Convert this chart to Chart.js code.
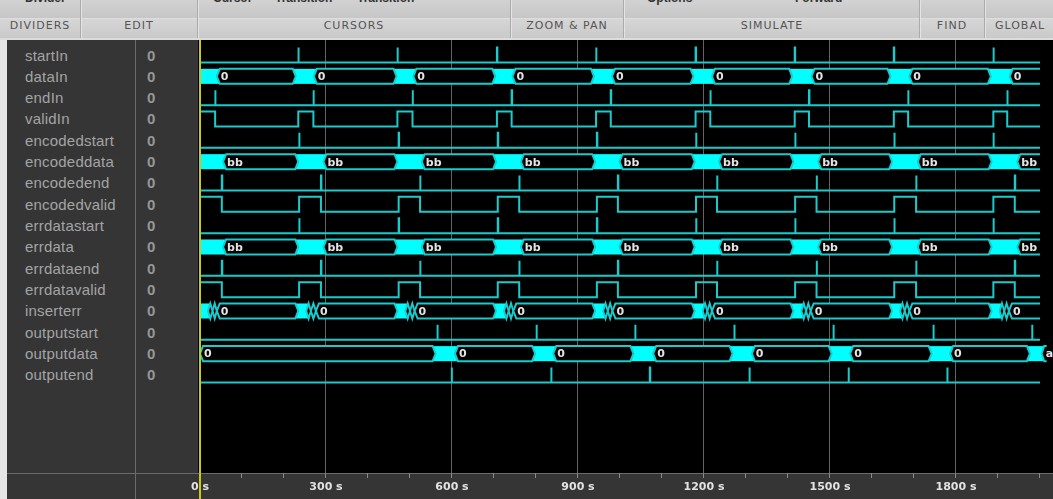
<!DOCTYPE html>
<html>
<head>
<meta charset="utf-8">
<script src="https://cdn.jsdelivr.net/npm/chart.js@4.4.1/dist/chart.umd.min.js"></script>
<style>
  body { margin: 0; width: 1053px; height: 499px; overflow: hidden; position: relative; background: #e6e6e6; font-family: "Liberation Sans", Arial, sans-serif; }
  .bar1 { position: absolute; left: 0; top: 0; width: 1053px; height: 18px; background: linear-gradient(#d2d2d2, #c6c6c6); overflow: hidden; }
  .bar2 { position: absolute; left: 0; top: 18px; width: 1053px; height: 20px; background: linear-gradient(#d6d6d6, #c9c9c9); border-top: 1px solid #dedede; box-sizing: border-box; }
  .barline { position: absolute; left: 0; top: 38px; width: 1053px; height: 2px; background: #dcdcdc; }
  .cut { position: absolute; top: -8px; font: bold 12px "Liberation Sans", Arial, sans-serif; color: #333; line-height: 12px; white-space: nowrap; }
  .btn { position: absolute; top: 0; height: 20px; line-height: 19px; text-align: center; font: 11px "DejaVu Sans", sans-serif; letter-spacing: 1px; color: #555; }
  .sep { position: absolute; top: 0; width: 1px; height: 38px; background: #ababab; border-right: 1px solid #e4e4e4; }
  .panel { position: absolute; left: 7px; top: 40px; width: 191px; height: 459px; background: #353535; }
  .vdiv { position: absolute; left: 128px; top: 0; width: 1px; height: 459px; background: #6a6a6a; }
  .hdiv { position: absolute; left: 0; top: 433px; width: 191px; height: 1px; background: #6a6a6a; }
  .name { position: absolute; left: 18px; font-size: 15px; line-height: 18px; color: #a4a4a4; white-space: nowrap; letter-spacing: 0.2px; }
  .val { position: absolute; left: 140px; font-size: 15px; font-weight: bold; line-height: 18px; color: #979797; }
  #wrap { position: absolute; left: 180px; top: 40px; width: 873px; height: 459px; }
</style>
</head>
<body>
<div class="bar1">
  <div class="cut" style="left:25px">Divider</div>
  <div class="cut" style="left:213px">Cursor</div>
  <div class="cut" style="left:275px">Transition</div>
  <div class="cut" style="left:357px">Transition</div>
  <div class="cut" style="left:647px">Options</div>
  <div class="cut" style="left:795px">Forward</div>
</div>
<div class="bar2">
  <div class="btn" style="left:0;width:80px">DIVIDERS</div>
  <div class="btn" style="left:80px;width:118px">EDIT</div>
  <div class="btn" style="left:198px;width:312px">CURSORS</div>
  <div class="btn" style="left:510px;width:114px">ZOOM &amp; PAN</div>
  <div class="btn" style="left:624px;width:296px">SIMULATE</div>
  <div class="btn" style="left:920px;width:64px">FIND</div>
  <div class="btn" style="left:984px;width:72px">GLOBAL</div>
</div>
<div class="sep" style="left:80px"></div>
<div class="sep" style="left:197px"></div>
<div class="sep" style="left:510px"></div>
<div class="sep" style="left:623px"></div>
<div class="sep" style="left:919px"></div>
<div class="sep" style="left:984px"></div>
<div class="barline"></div>
<div class="panel" id="panel">
  <div class="vdiv"></div>
  <div class="hdiv"></div>
</div>
<div id="wrap"><canvas id="waveChart" width="873" height="459"></canvas></div>

<script>
// time axis (seconds)
const timeMax = 2031;
const traceEnd = 2000;
const outputDataEnd = 2016;
const tickStep = 100;
const labelStep = 300;

const signalNames = ["startIn", "dataIn", "endIn", "validIn", "encodedstart", "encodeddata",
  "encodedend", "encodedvalid", "errdatastart", "errdata", "errdataend", "errdatavalid",
  "inserterr", "outputstart", "outputdata", "outputend"];
const signalValues = ["0", "0", "0", "0", "0", "0", "0", "0", "0", "0", "0", "0", "0", "0", "0", "0"];

// pulse times, high spans and bus changes ('*' = dense changes)
const startIn = [234, 470, 707, 943, 1180, 1416, 1652, 1889];
const dataIn = [[0, "*"], [40, "0"], [228, "*"], [271, "0"], [468, "*"], [508, "0"], [703, "*"], [744, "0"],
  [938, "*"], [981, "0"], [1175, "*"], [1219, "0"], [1410, "*"], [1456, "0"], [1644, "*"], [1689, "0"],
  [1883, "*"], [1928, "0"]];
const endIn = [36, 270, 506, 742, 978, 1215, 1450, 1686, 1922];
const validIn = [[0, 36], [234, 270], [470, 506], [707, 742], [943, 978], [1180, 1215], [1416, 1450],
  [1652, 1686], [1889, 1922]];

const encodedStart = [236, 473, 709, 945, 1181, 1417, 1653, 1889];
const encodedData = [[0, "*"], [55, "bb"], [234, "*"], [294, "bb"], [470, "*"], [528, "bb"], [705, "*"],
  [764, "bb"], [941, "*"], [999, "bb"], [1178, "*"], [1236, "bb"], [1413, "*"], [1472, "bb"],
  [1648, "*"], [1709, "bb"], [1885, "*"], [1946, "bb"]];
const encodedEnd = [52, 288, 524, 760, 995, 1231, 1468, 1705, 1940];
const encodedValid = [[0, 52], [236, 288], [473, 524], [709, 760], [945, 995], [1181, 1231],
  [1417, 1468], [1653, 1705], [1889, 1940]];

const errdataStart = [236, 473, 709, 945, 1181, 1417, 1653, 1889];
const errData = [[0, "*"], [55, "bb"], [234, "*"], [294, "bb"], [470, "*"], [528, "bb"], [705, "*"],
  [764, "bb"], [941, "*"], [999, "bb"], [1178, "*"], [1236, "bb"], [1413, "*"], [1472, "bb"],
  [1648, "*"], [1709, "bb"], [1885, "*"], [1946, "bb"]];
const errdataEnd = [52, 288, 524, 760, 995, 1231, 1468, 1705, 1940];
const errdataValid = [[0, 52], [236, 288], [473, 524], [709, 760], [945, 995], [1181, 1231],
  [1417, 1468], [1653, 1705], [1889, 1940]];

const insertErr = [[0, "*"], [19, ""], [30, ""], [40, "0"], [234, "*"], [253, ""], [264, ""], [276, "0"],
  [470, "*"], [489, ""], [500, ""], [511, "0"], [705, "*"], [724, ""], [735, ""], [746, "0"],
  [941, "*"], [960, ""], [971, ""], [982, "0"], [1178, "*"], [1197, ""], [1208, ""], [1219, "0"],
  [1413, "*"], [1432, ""], [1443, ""], [1454, "0"], [1648, "*"], [1667, ""], [1678, ""], [1689, "0"],
  [1885, "*"], [1904, ""], [1915, ""], [1926, "0"]];

const outputStart = [565, 801, 1036, 1272, 1508, 1746, 1981];
const outputData = [[0, "0"], [561, "*"], [607, "0"], [798, "*"], [841, "0"], [1032, "*"], [1079, "0"],
  [1268, "*"], [1314, "0"], [1504, "*"], [1548, "0"], [1742, "*"], [1786, "0"], [1976, "*"], [2004, "a"]];
const outputEnd = [599, 836, 1071, 1308, 1544, 1779];

const LINE = "#1bcaca";
const FILL = "#00ffff";
const HI = -0.375, LO = 0.33;

// left name panel
const panel = document.getElementById("panel");
signalNames.forEach((n, i) => {
  const cy = 15.5 + 21.33 * i;
  const d = document.createElement("div");
  d.className = "name"; d.style.top = (cy - 9) + "px"; d.innerText = n;
  panel.appendChild(d);
  const v = document.createElement("div");
  v.className = "val"; v.style.top = (cy - 9) + "px"; v.innerText = signalValues[i];
  panel.appendChild(v);
});

function pulseData(row, times) {
  const pts = [{ x: 0, y: row + LO }];
  times.forEach(t => {
    pts.push({ x: t, y: row + LO }, { x: t, y: row + HI }, { x: t + 1, y: row + HI }, { x: t + 1, y: row + LO });
  });
  pts.push({ x: traceEnd, y: row + LO });
  return pts;
}
function levelData(row, spans) {
  const pts = [];
  spans.forEach(([a, b]) => {
    if (a > 0) pts.push({ x: a, y: row + LO });
    pts.push({ x: a, y: row + HI }, { x: b, y: row + HI }, { x: b, y: row + LO });
  });
  pts.push({ x: traceEnd, y: row + LO });
  return pts;
}

const pulses = [[0, startIn], [2, endIn], [4, encodedStart], [6, encodedEnd], [8, errdataStart],
  [10, errdataEnd], [13, outputStart], [15, outputEnd]];
const levels = [[3, validIn], [7, encodedValid], [11, errdataValid]];
const buses = [[1, dataIn, traceEnd], [5, encodedData, traceEnd], [9, errData, traceEnd],
  [12, insertErr, traceEnd], [14, outputData, outputDataEnd]];

const datasets = [];
pulses.forEach(([r, d]) => datasets.push({ data: pulseData(r, d) }));
levels.forEach(([r, d]) => datasets.push({ data: levelData(r, d) }));
datasets.forEach(ds => Object.assign(ds, { borderColor: LINE, borderWidth: 2, pointRadius: 0, fill: false, tension: 0 }));

function drawBus(chart, row, changes, end) {
  const { ctx, scales: { x, y }, chartArea: ca } = chart;
  const top = y.getPixelForValue(row + HI), bot = y.getPixelForValue(row + LO), mid = (top + bot) / 2;
  const segs = changes.map(([t, v], k) => ({
    x1: x.getPixelForValue(t),
    x2: x.getPixelForValue(k + 1 < changes.length ? changes[k + 1][0] : end),
    v, last: k === changes.length - 1
  }));
  ctx.save();
  ctx.beginPath();
  ctx.rect(ca.left, ca.top, ca.right - ca.left, ca.bottom - ca.top);
  ctx.clip();
  ctx.fillStyle = FILL;
  segs.filter(s => s.v === "*").forEach(s => ctx.fillRect(s.x1 - 3, top, s.x2 - s.x1 + 6, bot - top));
  ctx.lineWidth = 2;
  ctx.strokeStyle = LINE;
  segs.filter(s => s.v !== "*").forEach(s => {
    const b = Math.min(3, (s.x2 - s.x1) / 2);
    ctx.beginPath();
    if (s.last) {
      ctx.moveTo(s.x2, top); ctx.lineTo(s.x1 + b, top); ctx.lineTo(s.x1, mid);
      ctx.lineTo(s.x1 + b, bot); ctx.lineTo(s.x2, bot);
    } else {
      ctx.moveTo(s.x1, mid); ctx.lineTo(s.x1 + b, top); ctx.lineTo(s.x2 - b, top); ctx.lineTo(s.x2, mid);
      ctx.lineTo(s.x2 - b, bot); ctx.lineTo(s.x1 + b, bot); ctx.closePath();
    }
    ctx.fillStyle = "#000";
    ctx.fill();
    ctx.stroke();
    if (s.v) {
      ctx.fillStyle = "#e4e4e4";
      ctx.font = "bold 11px 'DejaVu Sans'";
      ctx.textBaseline = "middle";
      ctx.fillText(s.v, s.x1 + 4, mid + 1);
    }
  });
  ctx.restore();
}

const wavePlugin = {
  id: "wave",
  beforeDraw(chart) {
    const { ctx, chartArea: ca, width, height } = chart;
    ctx.save();
    ctx.fillStyle = "#353535";
    ctx.fillRect(0, 0, width, height);
    ctx.fillStyle = "#000";
    ctx.fillRect(18, 0, width - 18, ca.bottom);
    ctx.fillStyle = "#6a6a6a";
    ctx.fillRect(0, ca.bottom, width, 1);
    ctx.restore();
  },
  afterDatasetsDraw(chart) {
    buses.forEach(([r, d, e]) => drawBus(chart, r, d, e));
  },
  afterDraw(chart) {
    const { ctx, scales: { x }, height } = chart;
    const cx = Math.round(x.getPixelForValue(0));
    ctx.save();
    ctx.fillStyle = "#c9c914";
    ctx.fillRect(cx - 1, 0, 2, height);
    ctx.restore();
  }
};

const rowPitch = 21.33;
const yMin = -15.5 / rowPitch;

new Chart(document.getElementById("waveChart"), {
  type: "line",
  data: { datasets },
  plugins: [wavePlugin],
  options: {
    responsive: false,
    animation: false,
    events: [],
    layout: { autoPadding: false, padding: { left: 20, right: 0, top: 0, bottom: 0 } },
    plugins: { legend: { display: false }, tooltip: { enabled: false } },
    scales: {
      x: {
        type: "linear",
        min: 0,
        max: timeMax,
        afterFit: s => { s.height = 26; s.paddingLeft = 0; s.paddingRight = 0; },
        border: { display: false },
        grid: {
          color: c => (c.tick && c.tick.value > 0 && c.tick.value % labelStep === 0) ? "#636363" : "rgba(0,0,0,0)",
          tickColor: "#8a8a8a",
          tickLength: 5,
          lineWidth: 1
        },
        ticks: {
          stepSize: tickStep,
          includeBounds: false,
          autoSkip: false,
          maxRotation: 0,
          padding: 3,
          color: "#e2e2e2",
          font: { family: "DejaVu Sans", size: 11, weight: "bold" },
          callback: v => (v % labelStep === 0 ? v + " s" : "")
        }
      },
      y: {
        type: "linear",
        display: false,
        reverse: true,
        min: yMin,
        max: yMin + 433 / rowPitch
      }
    }
  }
});
</script>
</body>
</html>
